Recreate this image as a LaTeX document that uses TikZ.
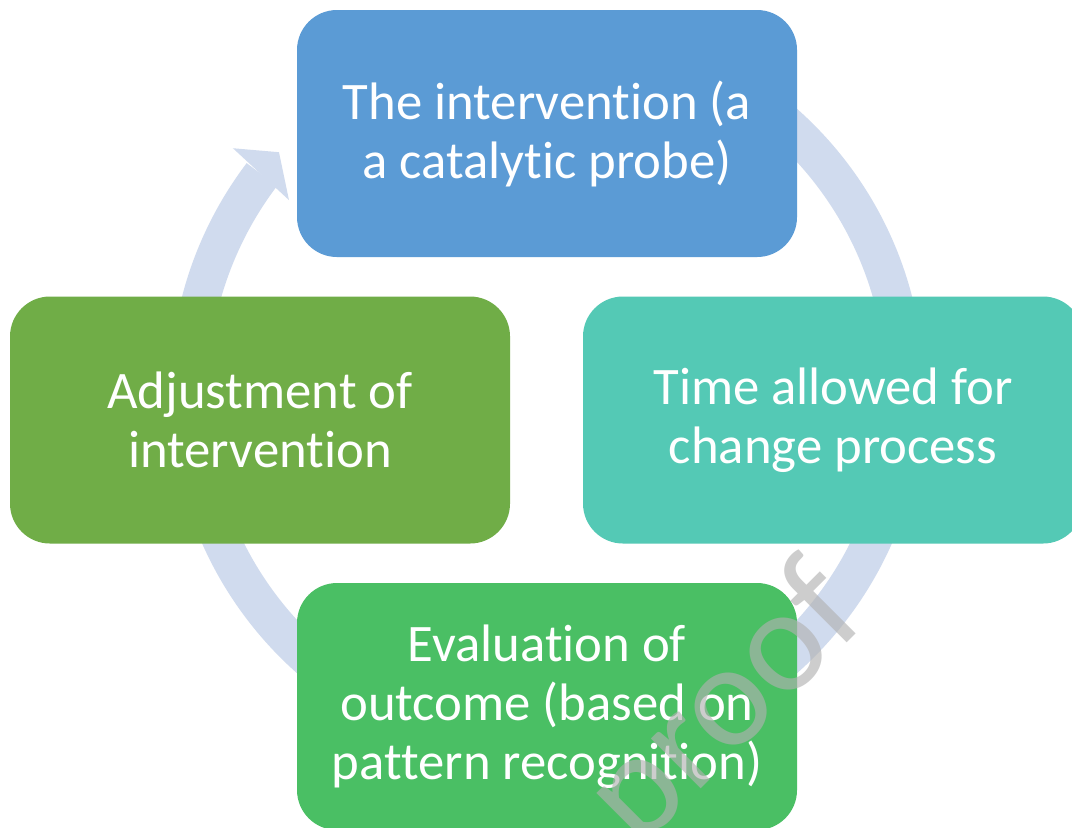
\documentclass[tikz,border=0pt]{standalone}
\usepackage{fontspec}
\setmainfont{Carlito}[RawFeature={-liga;-clig;-calt;-dlig}]
\usetikzlibrary{calc}

\definecolor{ringblue}{RGB}{208,219,238}
\definecolor{boxblue}{RGB}{91,155,213}
\definecolor{boxteal}{RGB}{84,201,181}
\definecolor{boxgreen}{RGB}{74,191,100}
\definecolor{boxolive}{RGB}{112,173,71}
\definecolor{markgray}{RGB}{177,177,177}

\tikzset{
  box/.style={rectangle, rounded corners=0.4cm, minimum width=5cm, minimum height=2.47cm,
    inner sep=0pt, text=white, align=center, font=\fontsize{15}{16.8}\selectfont},
}

\begin{document}
\begin{tikzpicture}
          \clip (0,0) rectangle (10.72,8.27);
          \fill[white] (0,0) rectangle (10.72,8.27);
          \coordinate (hub) at (5.47,4.36);

          %Kreispfeil
          \draw[ringblue, line width=0.38cm] (hub) ++(90:3.58cm) arc[start angle=90, end angle=-217.2, radius=3.58cm];
          \fill[ringblue] ($(hub)+(142.3:3.97cm)$) -- ($(hub)+(138.3:3.59cm)$) -- ($(hub)+(143.5:3.21cm)$) -- cycle;

          %Kaesten
          \node[box, fill=boxblue] (intervention) at (5.47,6.935) {The intervention (a\\a catalytic probe)};
          \node[box, fill=boxteal] (change) at (8.33,4.07) {Time allowed for\\change process};
          \node[box, fill=boxgreen] (evaluation) at (5.47,1.205) {Evaluation of\\outcome (based on\\pattern recognition)};
          \node[box, fill=boxolive] (adjustment) at (2.60,4.07) {Adjustment of\\intervention};

          %Wasserzeichen
          \node[rotate=45, anchor=base, text=markgray, opacity=0.64, inner sep=0pt,
            font=\fontsize{42}{42}\selectfont] (stamp) at (7.55,0.92) {proof};
\end{tikzpicture}
\end{document}
